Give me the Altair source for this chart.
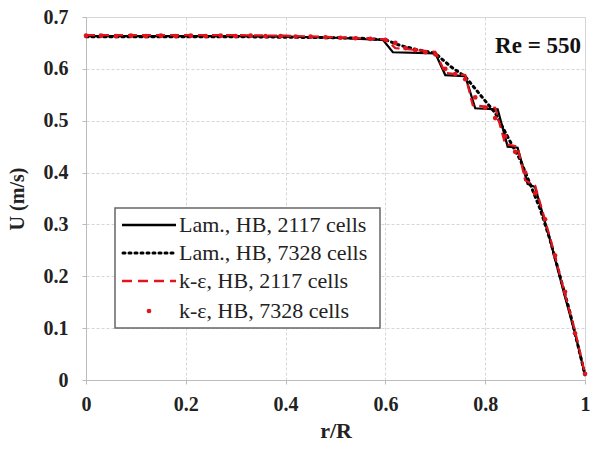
import altair as alt
import pandas as pd

# Lam., HB, 2117 cells (black solid)
r_lam2117 = [0, 0.1, 0.2, 0.3, 0.4, 0.5, 0.55, 0.595, 0.615, 0.70, 0.72, 0.76, 0.78, 0.825, 0.845, 0.865, 0.885, 0.90, 0.93, 0.96, 0.98, 1.0]
u_lam2117 = [0.663, 0.663, 0.663, 0.663, 0.662, 0.660, 0.658, 0.656, 0.632, 0.630, 0.588, 0.586, 0.524, 0.522, 0.450, 0.448, 0.378, 0.372, 0.27, 0.16, 0.09, 0.01]

# Lam., HB, 7328 cells (black dotted)
r_lam7328 = [0, 0.1, 0.2, 0.3, 0.4, 0.5, 0.55, 0.6, 0.63, 0.66, 0.70, 0.73, 0.76, 0.79, 0.82, 0.85, 0.87, 0.89, 0.91, 0.93, 0.95, 0.97, 0.99, 1.0]
u_lam7328 = [0.662, 0.662, 0.662, 0.662, 0.661, 0.660, 0.659, 0.656, 0.645, 0.638, 0.630, 0.605, 0.585, 0.550, 0.515, 0.460, 0.425, 0.378, 0.330, 0.270, 0.200, 0.130, 0.05, 0.01]

# k-e, HB, 2117 cells (red dashed)
r_ke2117 = [0, 0.1, 0.2, 0.3, 0.4, 0.5, 0.55, 0.6, 0.62, 0.70, 0.72, 0.76, 0.775, 0.82, 0.84, 0.865, 0.88, 0.90, 0.93, 0.96, 0.98, 1.0]
u_ke2117 = [0.665, 0.665, 0.665, 0.665, 0.664, 0.661, 0.659, 0.657, 0.640, 0.633, 0.592, 0.588, 0.530, 0.525, 0.455, 0.450, 0.385, 0.375, 0.275, 0.165, 0.095, 0.012]

# k-e, HB, 7328 cells (red dots)
r_ke7328 = [0.0, 0.03, 0.06, 0.09, 0.12, 0.15, 0.18, 0.21, 0.24, 0.27, 0.30, 0.33, 0.36, 0.39, 0.42, 0.45, 0.48, 0.51, 0.54, 0.57, 0.60, 0.62, 0.64, 0.66, 0.68, 0.70, 0.72, 0.74, 0.76, 0.78, 0.80, 0.82, 0.84, 0.86, 0.88, 0.90, 0.92, 0.94, 0.96, 0.98, 1.0]
u_ke7328 = [0.664, 0.664, 0.663, 0.664, 0.663, 0.664, 0.663, 0.664, 0.663, 0.664, 0.663, 0.664, 0.663, 0.663, 0.662, 0.662, 0.661, 0.660, 0.659, 0.658, 0.656, 0.650, 0.640, 0.636, 0.632, 0.628, 0.600, 0.590, 0.580, 0.545, 0.525, 0.505, 0.470, 0.440, 0.400, 0.360, 0.310, 0.240, 0.170, 0.090, 0.012]

legend_labels = ["Lam., HB, 2117 cells", "Lam., HB, 7328 cells", "k-\u03b5, HB, 2117 cells", "k-\u03b5, HB, 7328 cells"]
x_ticks = [0, 0.2, 0.4, 0.6, 0.8, 1.0]
y_ticks = [0, 0.1, 0.2, 0.3, 0.4, 0.5, 0.6, 0.7]

RED = "#e3141b"
SERIF = "Liberation Serif"

W, H = 499, 363

xs = alt.Scale(domain=[0, 1], nice=False)
ys = alt.Scale(domain=[0, 0.7], nice=False)

xax = alt.Axis(values=x_ticks, title="r/R", format="~g", labelFont=SERIF, labelFontWeight="bold",
               labelFontSize=20, labelColor="#222", titleFont=SERIF, titleFontWeight="bold",
               titleFontSize=22, titleColor="#222", titlePadding=6, labelPadding=10,
               grid=True, gridColor="#d6d6d6", gridDash=[3, 2], domainColor="#bbbbbb",
               tickColor="#bbbbbb", tickSize=4, labelFlush=False)
yax = alt.Axis(values=y_ticks, title="U (m/s)", format="~g", labelFont=SERIF, labelFontWeight="bold",
               labelFontSize=20, labelColor="#222", titleFont=SERIF, titleFontWeight="bold",
               titleFontSize=20, titleColor="#222", titlePadding=16, labelPadding=14,
               grid=True, gridColor="#d6d6d6", gridDash=[3, 2], domainColor="#bbbbbb",
               tickColor="#bbbbbb", tickSize=4, labelFlush=False)

df1 = pd.DataFrame({"r": r_lam2117, "U": u_lam2117})
df2 = pd.DataFrame({"r": r_lam7328, "U": u_lam7328})
df3 = pd.DataFrame({"r": r_ke2117, "U": u_ke2117})
df4 = pd.DataFrame({"r": r_ke7328, "U": u_ke7328})

l1 = alt.Chart(df1).mark_line(color="black", strokeWidth=2.2).encode(
    x=alt.X("r:Q", scale=xs, axis=xax), y=alt.Y("U:Q", scale=ys, axis=yax))
l2 = alt.Chart(df2).mark_line(color="black", strokeWidth=3, strokeDash=[2, 4], strokeCap="round").encode(
    x=alt.X("r:Q", scale=xs), y=alt.Y("U:Q", scale=ys))
l3 = alt.Chart(df3).mark_line(color=RED, strokeWidth=2.2, strokeDash=[9, 5]).encode(
    x=alt.X("r:Q", scale=xs), y=alt.Y("U:Q", scale=ys))
l4 = alt.Chart(df4).mark_point(color=RED, filled=True, size=22, opacity=1).encode(
    x=alt.X("r:Q", scale=xs), y=alt.Y("U:Q", scale=ys))

one = pd.DataFrame({"a": [0]})

re_text = alt.Chart(pd.DataFrame({"t": ["Re = 550"]})).mark_text(
    font=SERIF, fontWeight="bold", fontSize=23, align="right", baseline="middle", color="#111"
).encode(x=alt.value(495), y=alt.value(29), text="t:N")

# Legend (drawn inside plot area)
LX0, LY0, LX1, LY1 = 29, 191, 294, 311
layers = [l1, l2, l3, l4, re_text]
layers.append(alt.Chart(one).mark_rect(fill="white", stroke="#666", strokeWidth=1.5).encode(
    x=alt.value(LX0), x2=alt.value(LX1), y=alt.value(LY0), y2=alt.value(LY1)))

row_y = [208, 236, 264, 294]
sym_x0, sym_x1 = 36, 90
layers.append(alt.Chart(one).mark_rule(color="black", strokeWidth=2.5).encode(
    x=alt.value(sym_x0), x2=alt.value(sym_x1), y=alt.value(row_y[0])))
layers.append(alt.Chart(one).mark_rule(color="black", strokeWidth=3, strokeDash=[2, 4], strokeCap="round").encode(
    x=alt.value(sym_x0 + 1), x2=alt.value(sym_x1), y=alt.value(row_y[1])))
layers.append(alt.Chart(one).mark_rule(color=RED, strokeWidth=2.5, strokeDash=[10, 6]).encode(
    x=alt.value(sym_x0), x2=alt.value(sym_x1), y=alt.value(row_y[2])))
layers.append(alt.Chart(one).mark_point(color=RED, filled=True, size=22, opacity=1).encode(
    x=alt.value((sym_x0 + sym_x1) / 2), y=alt.value(row_y[3])))
for lab, yy in zip(legend_labels, row_y):
    layers.append(alt.Chart(pd.DataFrame({"label": [lab]})).mark_text(
        font=SERIF, fontSize=22, align="left", baseline="middle", color="#222"
    ).encode(x=alt.value(93), y=alt.value(yy), text="label:N"))

chart = alt.layer(*layers).properties(
    width=W, height=H,
    autosize=alt.AutoSizeParams(type="none"),
    padding={"left": 86, "top": 17, "right": 6, "bottom": 73},
    background="white",
).configure_view(stroke="#d6d6d6", strokeWidth=1)

chart.save("out.html", embed_options={"renderer": "svg", "actions": False})
